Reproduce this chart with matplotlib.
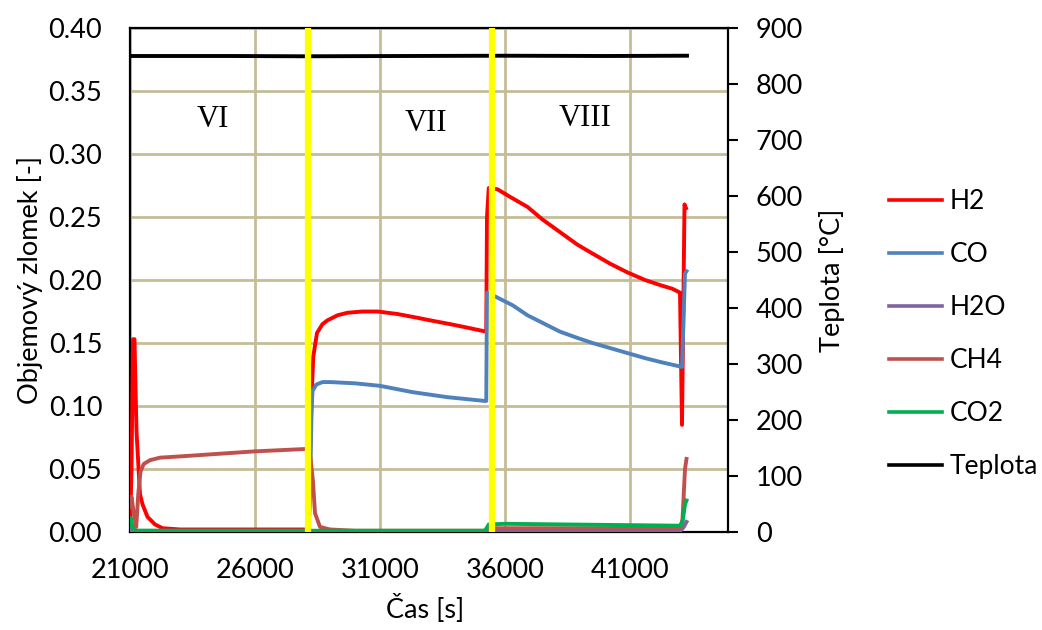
import matplotlib
matplotlib.use("Agg")
import matplotlib.pyplot as plt
from matplotlib.lines import Line2D

plt.rcParams['font.family'] = ['Lato', 'DejaVu Sans']

# ---- data ----
h2_t = [21000, 21060, 21120, 21180, 21260, 21400, 21500, 21700, 22000, 22300, 23000,
        28150, 28200, 28280, 28330, 28480, 28700, 28900, 29300, 29700, 30300, 30900,
        31700, 32500, 33000, 33800, 34300, 35250, 35280, 35350, 35700, 36200, 36900,
        37500, 38200, 38900, 39500, 40200, 40900, 41600, 42200, 42700, 43000, 43080,
        43180, 43240]
h2_v = [0.0, 0.05, 0.153, 0.153, 0.08, 0.03, 0.022, 0.012, 0.006, 0.003, 0.002,
        0.002, 0.06, 0.115, 0.139, 0.158, 0.165, 0.168, 0.172, 0.174, 0.175, 0.175,
        0.173, 0.170, 0.168, 0.165, 0.163, 0.159, 0.25, 0.273, 0.272, 0.266, 0.258,
        0.248, 0.238, 0.228, 0.221, 0.213, 0.206, 0.200, 0.196, 0.193, 0.190, 0.085,
        0.26, 0.257]

co_t = [21000, 28150, 28200, 28260, 28300, 28450, 28700, 29000, 30000, 31000, 32300,
        33700, 35200, 35250, 35280, 35600, 36300, 36900, 37500, 38200, 38900, 39500,
        40200, 40900, 41600, 42200, 43080, 43200, 43260]
co_v = [0.001, 0.001, 0.03, 0.095, 0.112, 0.117, 0.119, 0.119, 0.118, 0.116, 0.111,
        0.107, 0.104, 0.104, 0.19, 0.187, 0.180, 0.172, 0.166, 0.159, 0.154, 0.150,
        0.146, 0.142, 0.138, 0.135, 0.131, 0.205, 0.207]

h2o_t = [21000, 21100, 21200, 43000, 43150, 43260]
h2o_v = [0.002, 0.003, 0.0005, 0.0005, 0.004, 0.008]

ch4_t = [21000, 21060, 21150, 21250, 21330, 21420, 21550, 21800, 22200, 23000, 24500,
         26000, 28150, 28200, 28320, 28400, 28600, 29000, 30000, 35200, 35300, 43000,
         43100, 43200, 43260]
ch4_v = [0.02, 0.028, 0.015, 0.004, 0.03, 0.048, 0.054, 0.057, 0.059, 0.060, 0.062,
         0.064, 0.066, 0.062, 0.04, 0.015, 0.004, 0.002, 0.001, 0.001, 0.003, 0.003,
         0.01, 0.05, 0.058]

co2_t = [21000, 21040, 21100, 21200, 35200, 35350, 36000, 43000, 43100, 43200, 43260]
co2_v = [0.006, 0.011, 0.004, 0.001, 0.001, 0.006, 0.0065, 0.005, 0.008, 0.022, 0.025]

temp_t = [21000, 25000, 28000, 32000, 36000, 40000, 43280]
temp_v = [850, 850, 849.5, 850, 850.5, 850, 850.5]

boundaries = [28120, 35480]
regions = ["VI", "VII", "VIII"]
region_x = [24320, 32840, 39200]
region_y = [0.327, 0.3246, 0.3278]

xticks = [21000, 26000, 31000, 36000, 41000]
yticks = [0.0, 0.05, 0.10, 0.15, 0.20, 0.25, 0.30, 0.35, 0.40]
y2ticks = [0, 100, 200, 300, 400, 500, 600, 700, 800, 900]

# ---- figure ----
W, H = 1042, 630
FS = 19.5
fig = plt.figure(figsize=(W / 100, H / 100), dpi=100)
ax = fig.add_axes([130 / W, 1 - 532 / H, 598 / W, 504 / H])
ax2 = ax.twinx()

grid_c = '#C4BD97'
lw = 2.8
ax.plot(h2_t, h2_v, color='#FF0000', lw=lw, label='H2', zorder=3)
ax.plot(co_t, co_v, color='#4F81BD', lw=lw, label='CO', zorder=3)
ax.plot(h2o_t, h2o_v, color='#8064A2', lw=lw, label='H2O', zorder=3)
ax.plot(ch4_t, ch4_v, color='#C0504D', lw=lw, label='CH4', zorder=3)
ax.plot(co2_t, co2_v, color='#00B050', lw=lw, label='CO2', zorder=3)
ax2.plot(temp_t, temp_v, color='#000000', lw=lw, label='Teplota', zorder=3)

for b in boundaries:
    ax2.axvline(b, color='#FFFF00', lw=4.5, zorder=4)

for txt, x, y in zip(regions, region_x, region_y):
    ax.text(x, y, txt, ha='center', va='center', fontsize=22,
            family='Liberation Serif', color='black')

ax.set_xlim(21000, 44920)
ax.set_ylim(0, 0.40)
ax2.set_ylim(0, 900)

ax.set_xticks(xticks)
ax.set_xticklabels([str(t) for t in xticks])
ax.set_yticks(yticks)
ax.set_yticklabels([f"{v:.2f}" for v in yticks])
ax2.set_yticks(y2ticks)
ax2.set_yticklabels([str(v) for v in y2ticks])

ax.grid(True, color=grid_c, lw=2, zorder=0)
ax.set_axisbelow(True)

ax.tick_params(axis='x', length=0, pad=19, labelsize=FS)
ax.tick_params(axis='y', length=0, pad=20, labelsize=FS)
ax2.tick_params(axis='y', length=7, width=1.5, pad=13, labelsize=FS, direction='out')

for s in ['left', 'bottom', 'top']:
    ax.spines[s].set_linewidth(1.6)
    ax.spines[s].set_color('black')
ax2.spines['right'].set_linewidth(1.6)
for s in ['left', 'bottom', 'top']:
    ax2.spines[s].set_visible(False)
ax.spines['right'].set_visible(False)

ax.set_ylabel('Objemový zlomek [-]', fontsize=FS)
ax.yaxis.set_label_coords(-0.146, 0.5)
ax2.set_ylabel('Teplota [°C]', fontsize=FS)
ax2.yaxis.set_label_coords(1.152, 0.5)
ax.set_xlabel('Čas [s]', fontsize=FS)
ax.xaxis.set_label_coords(0.493, -0.124)

handles = [Line2D([], [], color=c, lw=2.6) for c in
           ['#FF0000', '#4F81BD', '#8064A2', '#C0504D', '#00B050', '#000000']]
labels = ['H2', 'CO', 'H2O', 'CH4', 'CO2', 'Teplota']
fig.legend(handles, labels, loc='center left', bbox_to_anchor=(889 / W, 1 - 334 / H),
           frameon=False, fontsize=19, handlelength=2.0, handletextpad=0.3,
           labelspacing=1.06, borderpad=0, borderaxespad=0)

fig.savefig('out.png', dpi=100)
